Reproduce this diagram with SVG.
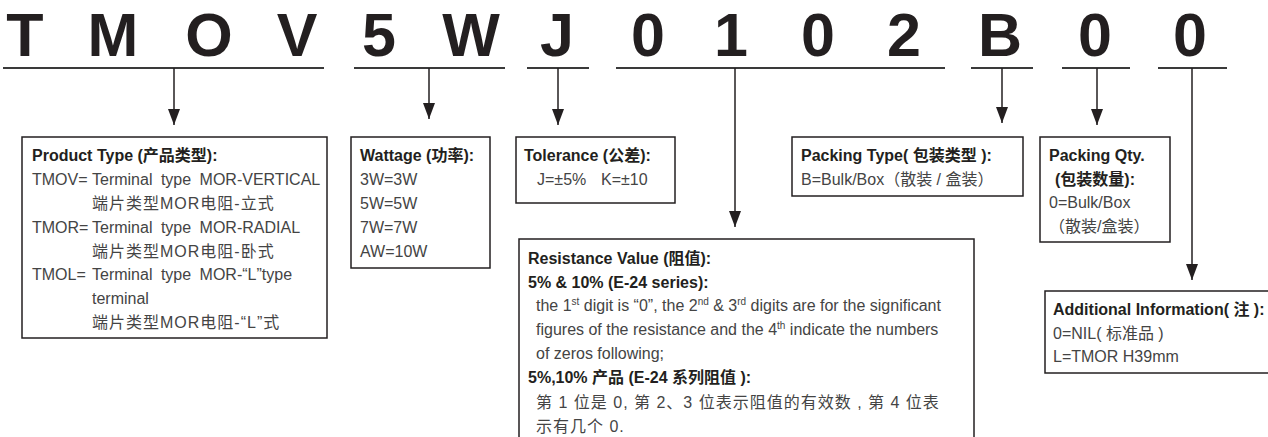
<svg xmlns="http://www.w3.org/2000/svg" width="1268" height="437" viewBox="0 0 1268 437">
<style>
.code{font-family:"Liberation Sans","Noto Sans CJK SC",sans-serif;font-weight:bold;font-size:61px;fill:#231f20;text-anchor:middle}
.h{font-family:"Liberation Sans","Noto Sans CJK SC",sans-serif;font-weight:bold;font-size:16px;fill:#231f20}
.t{font-family:"Liberation Sans","Noto Sans CJK SC",sans-serif;font-size:16px;fill:#444}
.ws{word-spacing:4px}
.cj{letter-spacing:1px}
.box{fill:#fff;stroke:#231f20;stroke-width:1.5}
.ul{stroke:#3a3a3a;stroke-width:2;fill:none}
.con{stroke:#231f20;stroke-width:1.5;fill:none;marker-end:url(#ah)}
.sup{font-size:10px}
</style>
<defs>
<marker id="ah" viewBox="0 0 16 12" refX="16" refY="6" markerWidth="16" markerHeight="12" markerUnits="userSpaceOnUse" orient="auto">
<path d="M0,0 L16,6 L0,12 z" fill="#231f20"/>
</marker>
</defs>
<g id="code">
<text class="code" x="25" y="56">T</text>
<text class="code" x="113" y="56">M</text>
<text class="code" x="209" y="56">O</text>
<text class="code" x="297" y="56">V</text>
<text class="code" x="379" y="56">5</text>
<text class="code" x="471" y="56">W</text>
<text class="code" x="557" y="56">J</text>
<text class="code" x="648" y="56">0</text>
<text class="code" x="731" y="56">1</text>
<text class="code" x="818" y="56">0</text>
<text class="code" x="904" y="56">2</text>
<text class="code" x="1000" y="56">B</text>
<text class="code" x="1095" y="56">0</text>
<text class="code" x="1190" y="56">0</text>
</g>
<g id="connectors">
<line class="ul" x1="3" y1="68" x2="324" y2="68"/>
<line class="ul" x1="354" y1="68" x2="505" y2="68"/>
<line class="ul" x1="527" y1="68" x2="589" y2="68"/>
<line class="ul" x1="616" y1="68" x2="945" y2="68"/>
<line class="ul" x1="971" y1="68" x2="1033" y2="68"/>
<line class="ul" x1="1062" y1="68" x2="1130" y2="68"/>
<line class="ul" x1="1158" y1="68" x2="1227" y2="68"/>
<line class="con" x1="174" y1="68" x2="174" y2="125"/>
<line class="con" x1="429" y1="68" x2="429" y2="119"/>
<line class="con" x1="558" y1="68" x2="558" y2="125"/>
<line class="con" x1="735" y1="68" x2="735" y2="227"/>
<line class="con" x1="1002" y1="68" x2="1002" y2="123"/>
<line class="con" x1="1097" y1="68" x2="1097" y2="125"/>
<line class="con" x1="1192" y1="68" x2="1192" y2="280"/>
</g>
<g id="product-type">
<rect class="box" x="22" y="137" width="305" height="201"/>
<text class="h" x="32" y="161">Product Type (产品类型):</text>
<text class="t" x="32" y="185">TMOV=</text>
<text class="t ws" x="92" y="185">Terminal type MOR-VERTICAL</text>
<text class="t cj" x="92" y="209">端片类型MOR电阻-立式</text>
<text class="t" x="32" y="233">TMOR=</text>
<text class="t ws" x="92" y="233">Terminal type MOR-RADIAL</text>
<text class="t cj" x="92" y="257">端片类型MOR电阻-卧式</text>
<text class="t" x="32" y="280">TMOL=</text>
<text class="t ws" x="92" y="280">Terminal type MOR-“L”type</text>
<text class="t" x="92" y="304">terminal</text>
<text class="t cj" x="92" y="328">端片类型MOR电阻-“L”式</text>
</g>
<g id="wattage">
<rect class="box" x="351" y="137" width="139" height="131"/>
<text class="h" x="360" y="161">Wattage (功率):</text>
<text class="t" x="360" y="185">3W=3W</text>
<text class="t" x="360" y="209">5W=5W</text>
<text class="t" x="360" y="233">7W=7W</text>
<text class="t" x="360" y="257">AW=10W</text>
</g>
<g id="tolerance">
<rect class="box" x="516" y="137" width="159" height="66"/>
<text class="h" x="524" y="161">Tolerance (公差):</text>
<text class="t" x="537" y="185">J=±5%</text>
<text class="t" x="601" y="185">K=±10</text>
</g>
<g id="resistance">
<rect class="box" x="519" y="239" width="455" height="210"/>
<text class="h" x="528" y="264">Resistance Value (阻值):</text>
<text class="h" x="528" y="288">5% &amp; 10% (E-24 series):</text>
<text class="t" x="536" y="311">the 1<tspan class="sup" dy="-6">st</tspan><tspan dy="6"> digit is “0”, the 2</tspan><tspan class="sup" dy="-6">nd</tspan><tspan dy="6"> &amp; 3</tspan><tspan class="sup" dy="-6">rd</tspan><tspan dy="6"> digits are for the significant</tspan></text>
<text class="t" x="536" y="335">figures of the resistance and the 4<tspan class="sup" dy="-6">th</tspan><tspan dy="6"> indicate the numbers</tspan></text>
<text class="t" x="536" y="359">of zeros following;</text>
<text class="h" x="528" y="383">5%,10% 产品 (E-24 系列阻值 ):</text>
<text class="t cj" x="536" y="408">第 1 位是 0, 第 2、3 位表示阻值的有效数 , 第 4 位表</text>
<text class="t cj" x="536" y="432">示有几个 0.</text>
</g>
<g id="packing-type">
<rect class="box" x="792" y="137" width="231" height="59"/>
<text class="h" x="801" y="161">Packing Type( 包装类型 ):</text>
<text class="t" x="801" y="185">B=Bulk/Box（散装 / 盒装）</text>
</g>
<g id="packing-qty">
<rect class="box" x="1040" y="137" width="130" height="105"/>
<text class="h" x="1049" y="161">Packing Qty.</text>
<text class="h" x="1055" y="185">(包装数量):</text>
<text class="t" x="1049" y="208">0=Bulk/Box</text>
<text class="t" x="1049" y="232">（散装/盒装）</text>
</g>
<g id="additional-info">
<rect class="box" x="1045" y="291" width="240" height="82"/>
<text class="h" x="1053" y="315">Additional Information( 注 ):</text>
<text class="t" x="1053" y="339">0=NIL( 标准品 )</text>
<text class="t" x="1053" y="362">L=TMOR H39mm</text>
</g>
</svg>
